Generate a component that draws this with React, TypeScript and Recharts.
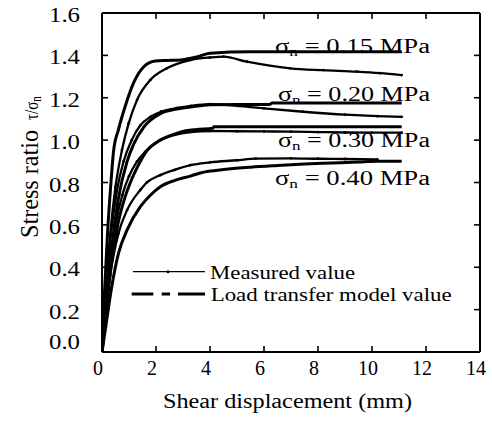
import React from 'react';
import { LineChart, Line, XAxis, YAxis, ReferenceLine } from 'recharts';

const FONT = 'Liberation Serif, Tinos, Times New Roman, Times, serif';
const PL = 102;
const PR = 480;
const PT = 13;
const PB = 352;

const X_TICKS = [0, 2, 4, 6, 8, 10, 12, 14];
const Y_TICKS = [0, 0.2, 0.4, 0.6, 0.8, 1.0, 1.2, 1.4, 1.6];

// sigma_n = 0.15 MPa
const model015X = [0, 0.08, 0.2, 0.32, 0.43, 0.61, 0.86, 1.17, 1.54, 1.97, 2.4, 2.9, 3.5, 4.0, 5.5, 8, 11.1];
const model015Y = [0, 0.25, 0.55, 0.78, 0.95, 1.05, 1.16, 1.27, 1.345, 1.373, 1.376, 1.378, 1.392, 1.41, 1.417, 1.417, 1.417];
const meas015X = [0, 0.12, 0.3, 0.5, 0.74, 0.99, 1.3, 1.79, 2.4, 3.27, 4.0, 4.5, 5.37, 6.97, 8.2, 9.44, 10.3, 11.1];
const meas015Y = [0, 0.25, 0.55, 0.78, 0.953, 1.08, 1.19, 1.284, 1.339, 1.378, 1.39, 1.394, 1.37, 1.339, 1.33, 1.323, 1.316, 1.307];

// sigma_n = 0.20 MPa
const meas020X = [0, 0.1, 0.3, 0.55, 0.8, 1.1, 1.42, 1.8, 2.2, 2.8, 3.3, 4.0, 5.0, 6.0, 7.45, 9.0, 10.2, 11.1];
const meas020Y = [0, 0.22, 0.52, 0.76, 0.9, 1.0, 1.07, 1.11, 1.135, 1.152, 1.162, 1.17, 1.162, 1.15, 1.134, 1.12, 1.113, 1.11];
const model020X = [0, 0.15, 0.35, 0.6, 0.93, 1.17, 1.54, 2.16, 2.7, 3.27, 4.0, 5.0, 6.2, 6.3, 8, 11.1];
const model020Y = [0, 0.2, 0.48, 0.72, 0.9, 0.98, 1.06, 1.125, 1.145, 1.156, 1.167, 1.168, 1.168, 1.175, 1.175, 1.175];

// sigma_n = 0.30 MPa
const model030X = [0, 0.15, 0.35, 0.6, 0.85, 1.05, 1.3, 1.66, 2.03, 2.5, 2.9, 3.5, 4.1, 4.15, 6, 8, 11.1];
const model030Y = [0, 0.18, 0.42, 0.61, 0.73, 0.8, 0.87, 0.95, 0.99, 1.02, 1.038, 1.05, 1.056, 1.063, 1.063, 1.063, 1.063];
const meas030X = [0, 0.1, 0.3, 0.5, 0.75, 1.0, 1.3, 1.6, 2.16, 2.7, 3.27, 4.0, 5.0, 6.0, 7.0, 8.0, 9.0, 10.0, 11.1];
const meas030Y = [0, 0.18, 0.42, 0.6, 0.74, 0.83, 0.9, 0.945, 1.0, 1.025, 1.038, 1.043, 1.042, 1.041, 1.04, 1.038, 1.036, 1.035, 1.035];

// sigma_n = 0.40 MPa
const meas040X = [0, 0.1, 0.3, 0.61, 0.93, 1.42, 1.66, 2.16, 2.7, 3.27, 4.0, 5.0, 5.7, 7.0, 8.0, 9.0, 10.2];
const meas040Y = [0, 0.16, 0.36, 0.56, 0.67, 0.765, 0.8, 0.835, 0.86, 0.882, 0.895, 0.905, 0.913, 0.914, 0.912, 0.911, 0.909];
const model040X = [0, 0.15, 0.35, 0.61, 0.93, 1.42, 1.79, 2.16, 2.7, 3.27, 3.64, 4.6, 5.5, 6.5, 7.5, 8.5, 9.5, 10.2, 11.1];
const model040Y = [0, 0.13, 0.3, 0.466, 0.576, 0.686, 0.74, 0.78, 0.81, 0.83, 0.845, 0.862, 0.872, 0.88, 0.887, 0.892, 0.897, 0.9, 0.9];

const SERIES_LABELS = ['0.15', '0.20', '0.30', '0.40'];
const LEGEND_NAMES = ['Measured value', 'Load transfer model value'];

const toPts = (xs: number[], ys: number[]) => xs.map((x, i) => ({ x, y: ys[i] }));

const measured = [
  toPts(meas015X, meas015Y),
  toPts(meas020X, meas020Y),
  toPts(meas030X, meas030Y),
  toPts(meas040X, meas040Y),
];
const model = [
  toPts(model015X, model015Y),
  toPts(model020X, model020Y),
  toPts(model030X, model030Y),
  toPts(model040X, model040Y),
];

const txtStyle: React.CSSProperties = { fontFamily: FONT };

function XTick(props: any) {
  const { x, payload } = props;
  return (
    <g>
      <line x1={x} x2={x} y1={PB} y2={PB - 6} stroke="#000" strokeWidth={1.6} />
      <line x1={x} x2={x} y1={PT} y2={PT + 6} stroke="#000" strokeWidth={1.6} />
      <text x={x - 4} y={375} textAnchor="middle" fontSize={20} style={txtStyle} fill="#000">
        {payload.value}
      </text>
    </g>
  );
}

function YTick(props: any) {
  const { y, payload } = props;
  const v = payload.value as number;
  const dy = v === 0 ? -10 : 2;
  return (
    <g>
      <line x1={PL} x2={PL + 6} y1={y} y2={y} stroke="#000" strokeWidth={1.6} />
      <line x1={PR - 6} x2={PR} y1={y} y2={y} stroke="#000" strokeWidth={1.6} />
      <text
        x={80}
        y={y + 7 + dy}
        textAnchor="end"
        fontSize={20}
        style={txtStyle}
        fill="#000"
        textLength={31}
        lengthAdjust="spacingAndGlyphs"
      >
        {v.toFixed(1)}
      </text>
    </g>
  );
}

const labelPos = [
  { x: 275, y: 52.7, w: 155 },
  { x: 278, y: 100.5, w: 152 },
  { x: 278, y: 146.7, w: 152 },
  { x: 275, y: 185, w: 155 },
];

export default function App() {
  return (
    <div style={{ position: 'absolute', left: 0, top: 0, width: 492, height: 422, background: '#fff' }}>
      <LineChart width={492} height={422} margin={{ top: PT, right: 492 - PR, bottom: 0, left: 0 }}>
        <XAxis
          dataKey="x"
          type="number"
          domain={[0, 14]}
          ticks={X_TICKS}
          interval={0}
          height={70}
          axisLine={{ stroke: '#000', strokeWidth: 2 }}
          tickLine={false}
          tickSize={0}
          tickMargin={0}
          tick={<XTick />}
          allowDataOverflow
        />
        <YAxis
          type="number"
          domain={[0, 1.6]}
          ticks={Y_TICKS}
          interval={0}
          width={PL}
          axisLine={{ stroke: '#000', strokeWidth: 2 }}
          tickLine={false}
          tickSize={0}
          tickMargin={0}
          tick={<YTick />}
          allowDataOverflow
        />
        <ReferenceLine y={1.6} stroke="#000" strokeWidth={2} />
        <ReferenceLine x={14} stroke="#000" strokeWidth={2} />
        {model.map((d, i) => (
          <Line
            key={'model' + i}
            data={d}
            dataKey="y"
            type="monotone"
            stroke="#000"
            strokeWidth={3}
            dot={false}
            isAnimationActive={false}
          />
        ))}
        {measured.map((d, i) => (
          <Line
            key={'meas' + i}
            data={d}
            dataKey="y"
            type="monotone"
            stroke="#000"
            strokeWidth={2.3}
            dot={{ r: 1.4, fill: '#000', stroke: 'none' }}
            isAnimationActive={false}
          />
        ))}
      </LineChart>
      <svg
        width={492}
        height={422}
        style={{ position: 'absolute', left: 0, top: 0, pointerEvents: 'none' }}
      >
        {SERIES_LABELS.map((s, i) => (
          <text
            key={s}
            x={labelPos[i].x}
            y={labelPos[i].y}
            fontSize={20}
            style={txtStyle}
            fill="#000"
            textLength={labelPos[i].w}
            lengthAdjust="spacingAndGlyphs"
          >
            <tspan>σ</tspan>
            <tspan fontSize={13} dy={3}>n</tspan>
            <tspan dy={-3}>{' = ' + s + ' MPa'}</tspan>
          </text>
        ))}
        {/* legend */}
        <line x1={133} x2={205} y1={271.7} y2={271.7} stroke="#000" strokeWidth={1.2} />
        <circle cx={168} cy={271.7} r={1.5} fill="#000" />
        <text x={210} y={279.3} fontSize={19} style={txtStyle} fill="#000" textLength={145} lengthAdjust="spacingAndGlyphs">
          {LEGEND_NAMES[0]}
        </text>
        <line
          x1={131.7}
          x2={205}
          y1={294}
          y2={294}
          stroke="#000"
          strokeWidth={3.2}
          strokeDasharray="21.6 8.4 8.3 8 30"
        />
        <text x={210.7} y={300.7} fontSize={19} style={txtStyle} fill="#000" textLength={241} lengthAdjust="spacingAndGlyphs">
          {LEGEND_NAMES[1]}
        </text>
        {/* axis titles */}
        <text x={163} y={408} fontSize={20} style={txtStyle} fill="#000" textLength={249} lengthAdjust="spacingAndGlyphs">
          Shear displacement (mm)
        </text>
        <g transform="translate(38,238) rotate(-90) scale(1,1.25)">
          <text x={0} y={0} fontSize={20} style={txtStyle} fill="#000" textLength={108} lengthAdjust="spacingAndGlyphs">
            Stress ratio
          </text>
          <text x={118} y={0} fontSize={15} style={txtStyle} fill="#000">
            <tspan>τ/σ</tspan>
            <tspan fontSize={11} dy={2}>n</tspan>
          </text>
        </g>
      </svg>
    </div>
  );
}
